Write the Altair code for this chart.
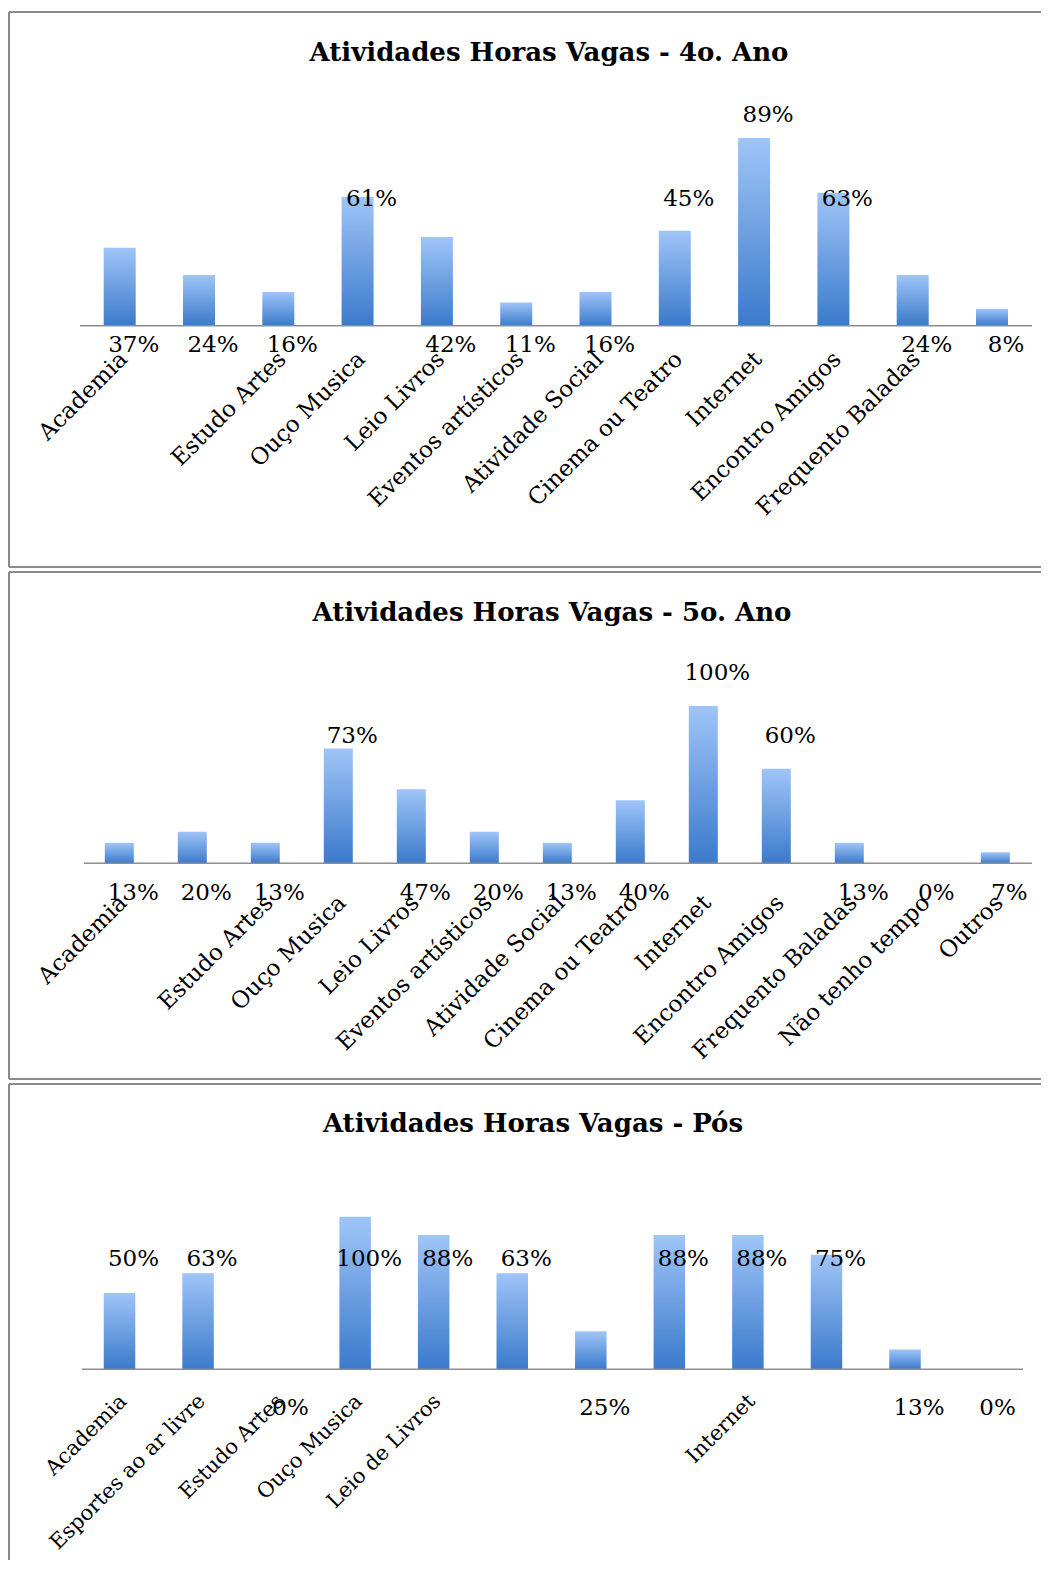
import altair as alt
import pandas as pd

# ---------------- data ----------------
cats_4 = ["Academia", "Esportes ao ar livre", "Estudo Artes", "Ouço Musica", "Leio Livros",
          "Eventos artísticos", "Atividade Social", "Cinema ou Teatro", "Internet",
          "Encontro Amigos", "Frequento Baladas", "Outros"]
vals_4 = [37, 24, 16, 61, 42, 11, 16, 45, 89, 63, 24, 8]
hidden_4 = ["Esportes ao ar livre", "Outros"]

cats_5 = ["Academia", "Esportes ao ar livre", "Estudo Artes", "Ouço Musica", "Leio Livros",
          "Eventos artísticos", "Atividade Social", "Cinema ou Teatro", "Internet",
          "Encontro Amigos", "Frequento Baladas", "Não tenho tempo", "Outros"]
vals_5 = [13, 20, 13, 73, 47, 20, 13, 40, 100, 60, 13, 0, 7]
hidden_5 = ["Esportes ao ar livre"]

cats_p = ["Academia", "Esportes ao ar livre", "Estudo Artes", "Ouço Musica", "Leio de Livros",
          "Eventos artísticos", "Atividade Social", "Cinema ou Teatro", "Internet",
          "Encontro Amigos", "Frequento Baladas", "Outros"]
vals_p = [50, 63, 0, 100, 88, 63, 25, 88, 88, 75, 13, 0]
hidden_p = ["Eventos artísticos", "Atividade Social", "Cinema ou Teatro",
            "Encontro Amigos", "Frequento Baladas", "Outros"]

titles = ["Atividades Horas Vagas - 4o. Ano",
          "Atividades Horas Vagas - 5o. Ano",
          "Atividades Horas Vagas - Pós"]

# ---------------- style / layout ----------------
W = 1034
FONT = "DejaVu Serif"
BORDER = "#8a8a8a"
AXIS = "#8e8e8e"
grad = alt.Gradient(
    gradient="linear",
    stops=[alt.GradientStop(color="#9FC5F8", offset=0),
           alt.GradientStop(color="#3B7ACB", offset=1)],
    x1=1, x2=1, y1=0, y2=1,
)

panels = [
    dict(cats=cats_4, vals=vals_4, hidden=hidden_4, title=titles[0], H=557,
         base=314.7, k=2.11, c0=111.7, step=79.3, bw=32,
         thr=45, row=60, peak=True, peak_off=23, below_off=19.5,
         lab_off=30, lab_size=23,
         tx=541, ty=42, ax0=72, ax1=1024, bottom=True),
    dict(cats=cats_5, vals=vals_5, hidden=hidden_5, title=titles[1], H=509,
         base=292.3, k=1.574, c0=111.3, step=73.0, bw=29,
         thr=60, row=81, peak=True, peak_off=33, below_off=30,
         lab_off=36, lab_size=23,
         tx=544, ty=42, ax0=76, ax1=1024, bottom=True),
    dict(cats=cats_p, vals=vals_p, hidden=hidden_p, title=titles[2], H=478,
         base=286.3, k=1.526, c0=111.5, step=78.55, bw=31.5,
         thr=50, row=72, peak=False, peak_off=0, below_off=39,
         lab_off=29, lab_size=21,
         tx=525, ty=41, ax0=74, ax1=1015, bottom=False),
]


def make_panel(p):
    n = len(p["cats"])
    df = pd.DataFrame({"cat": p["cats"], "v": p["vals"]})
    df["lbl"] = df["v"].astype(str) + "%"
    one = pd.DataFrame({"t": [p["title"]]})

    pi = 1 - p["bw"] / p["step"]
    po = (W / p["step"] - (n - pi)) / 2
    free = W - p["step"] * (n - pi)
    align = (p["c0"] - p["bw"] / 2) / free

    xs = alt.Scale(domain=p["cats"], paddingInner=pi, paddingOuter=po, align=align)
    H, base, k = p["H"], p["base"], p["k"]
    ys = alt.Scale(domain=[-(H - base) / k, base / k], nice=False, zero=False)

    X = alt.X("cat:N", scale=xs, sort=p["cats"], axis=None)

    bars = alt.Chart(df).mark_bar(color=grad).encode(
        x=X, y=alt.Y("v:Q", scale=ys, axis=None), y2=alt.Y2(datum=0))

    base_line = alt.Chart(one).mark_rule(color=AXIS, strokeWidth=1.6).encode(
        y=alt.YDatum(0, scale=ys), x=alt.value(p["ax0"]), x2=alt.value(p["ax1"]))

    vmax = max(p["vals"])
    txt = dict(font=FONT, fontSize=23, color="black", baseline="middle", align="center", dx=14)

    below = alt.Chart(df).transform_filter(f"datum.v < {p['thr']}").mark_text(
        dy=p["below_off"], **txt).encode(x=X, y=alt.YDatum(0, scale=ys), text="lbl:N")

    if p["peak"]:
        row_filter = f"datum.v >= {p['thr']} && datum.v < {vmax}"
    else:
        row_filter = f"datum.v >= {p['thr']}"
    row = alt.Chart(df).transform_filter(row_filter).mark_text(**txt).encode(
        x=X, y=alt.YDatum(p["row"], scale=ys), text="lbl:N")

    layers = [bars, base_line, below, row]
    if p["peak"]:
        peak = alt.Chart(df).transform_filter(f"datum.v == {vmax}").mark_text(
            dy=-p["peak_off"], **txt).encode(
            x=X, y=alt.Y("v:Q", scale=ys), text="lbl:N")
        layers.append(peak)

    hid = "[" + ",".join("'" + h + "'" for h in p["hidden"]) + "]"
    cat_labels = alt.Chart(df).transform_filter(f"indexof({hid}, datum.cat) < 0").mark_text(
        font=FONT, fontSize=p["lab_size"], color="black", angle=315, align="right",
        baseline="middle", xOffset=4, yOffset=p["lab_off"]).encode(
        x=X, y=alt.YDatum(0, scale=ys), text="cat:N")
    layers.append(cat_labels)

    title = alt.Chart(one).mark_text(
        font=FONT, fontSize=26, fontWeight="bold", color="black",
        align="center", baseline="middle").encode(
        x=alt.value(p["tx"]), y=alt.value(p["ty"]), text="t:N")
    layers.append(title)

    # panel frame (kept inside the cell so it does not enlarge the layout)
    left = alt.Chart(one).mark_rule(color=BORDER, strokeWidth=2).encode(
        x=alt.value(1), y=alt.value(1), y2=alt.value(H - 1))
    top = alt.Chart(one).mark_rule(color=BORDER, strokeWidth=2).encode(
        y=alt.value(1), x=alt.value(1), x2=alt.value(W - 1))
    layers += [left, top]
    if p["bottom"]:
        bot = alt.Chart(one).mark_rule(color=BORDER, strokeWidth=2).encode(
            y=alt.value(H - 1), x=alt.value(1), x2=alt.value(W - 1))
        layers.append(bot)

    return alt.layer(*layers).properties(width=W, height=H)


chart = alt.vconcat(*[make_panel(p) for p in panels], spacing=3).properties(
    padding={"left": 0, "top": 3, "right": 0, "bottom": 0},
    background="white",
).configure_view(strokeWidth=0, stroke="transparent")

chart.save("out.html", embed_options={"renderer": "svg", "actions": False})
